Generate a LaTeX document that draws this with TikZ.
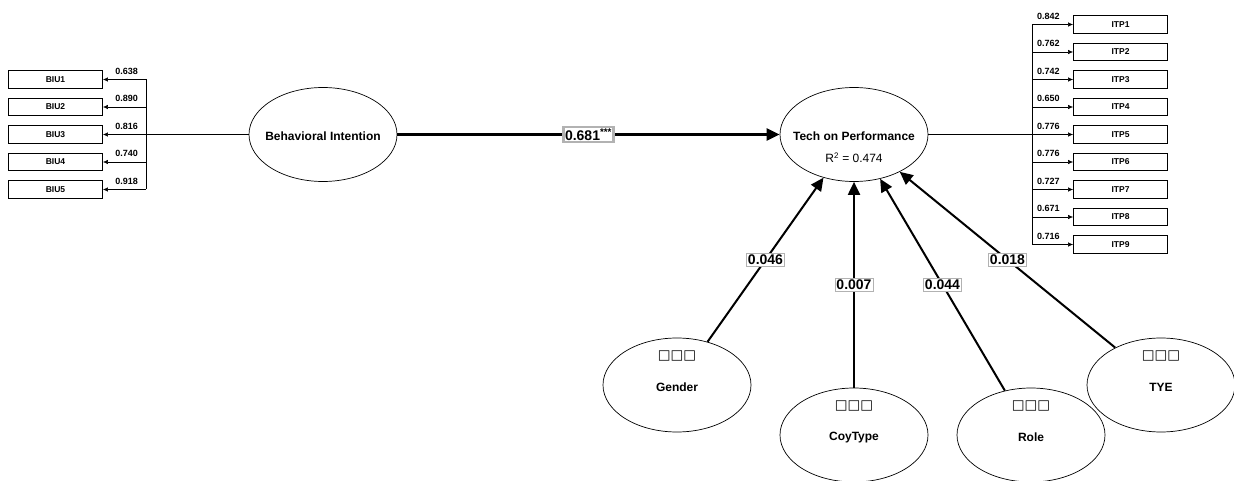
\documentclass[tikz,border=0pt]{standalone}
\usepackage{fontspec}
\setmainfont{Liberation Sans}
\newfontfamily\boxfont{DejaVu Sans}
\usetikzlibrary{shapes.geometric, arrows.meta, calc}

\tikzset{
  lv/.style={ellipse, draw, line width=0.7pt, minimum width=148pt, minimum height=94pt, inner sep=0pt},
  lvlabel/.style={font=\bfseries\fontsize{12}{14}\selectfont, inner sep=0pt},
  rsq/.style={font=\fontsize{12}{14}\selectfont, inner sep=0pt},
  ind/.style={rectangle, draw, line width=0.8pt, minimum width=94pt, minimum height=17.5pt, inner sep=0pt, font=\bfseries\fontsize{8.5}{9}\selectfont},
  load/.style={font=\bfseries\fontsize{9}{10}\selectfont, inner sep=0pt, above=5pt},
  loadarrow/.style={line width=0.6pt, -{Latex[length=5pt,width=4.5pt]}},
  coef/.style={rectangle, draw=black!30, fill=white, inner sep=1.5pt, font=\bfseries\fontsize{14}{16}\selectfont},
  patharrow/.style={line width=2pt, -{Triangle[length=13pt,width=12pt]}},
  squares/.style={font=\boxfont\fontsize{13.5}{14}\selectfont, inner sep=0pt}
}

\begin{document}
\begin{tikzpicture}[>=latex, x=1pt, y=-1pt]
\useasboundingbox (0,0) rectangle (1234,481);

% latent variables
\node[lv] (bi) at (323,134.5) {};
\node[lvlabel] (bi-txt) at (323,136) {Behavioral Intention};
\node[lv] (tp) at (854,134.5) {};
\node[lvlabel] (tp-txt) at (854,136) {Tech on Performance};
\node[rsq] (tp-r2) at (854,158) {R\textsuperscript{2} = 0.474};

% BIU indicators
\foreach \i/\ld [count=\k from 0] in {1/0.638,2/0.890,3/0.816,4/0.740,5/0.918}{
  \node[ind] (biu\i) at (55.5,79.5+27.5*\k) {BIU\i};
  \coordinate (bj\i) at (146,79.5+27.5*\k);
  \draw[loadarrow] (bj\i) -- (biu\i.east) node[load, pos=0.45] {\ld};
}
\draw[line width=0.6pt] (bj1) -- (bj5);
\draw[line width=0.6pt] (bi.west) -- (bj3);

% ITP indicators
\foreach \i/\ld [count=\k from 0] in {1/0.842,2/0.762,3/0.742,4/0.650,5/0.776,6/0.776,7/0.727,8/0.671,9/0.716}{
  \node[ind] (itp\i) at (1120.5,24.5+27.5*\k) {ITP\i};
  \coordinate (tj\i) at (1032,24.5+27.5*\k);
  \draw[loadarrow] (tj\i) -- (itp\i.west) node[load, pos=0.4] {\ld};
}
\draw[line width=0.6pt] (tj1) -- (tj9);
\draw[line width=0.6pt] (tp.east) -- (tj5);

% structural path
\draw[patharrow, line width=2.5pt] (bi) -- (tp) node[coef, pos=0.5] (bi-tp) {0.681\textsuperscript{***}};

% control variables
\foreach \nm/\txt/\px/\py/\cf in {gen/Gender/677/385/0.046, coy/CoyType/854/435/0.007, role/Role/1031/435/0.044, tye/TYE/1161/385/0.018}{
  \node[lv] (\nm) at (\px,\py) {};
  \node[squares] (\nm-sq) at (\px,\py-29) {□□□};
  \node[lvlabel] (\nm-txt) at (\px,\py+2.5) {\txt};
  \draw[patharrow] (\nm) -- (tp);
  \node[coef] (\nm-cf) at ($(\nm)!0.5!(tp)$) {\cf};
}
\end{tikzpicture}
\end{document}
